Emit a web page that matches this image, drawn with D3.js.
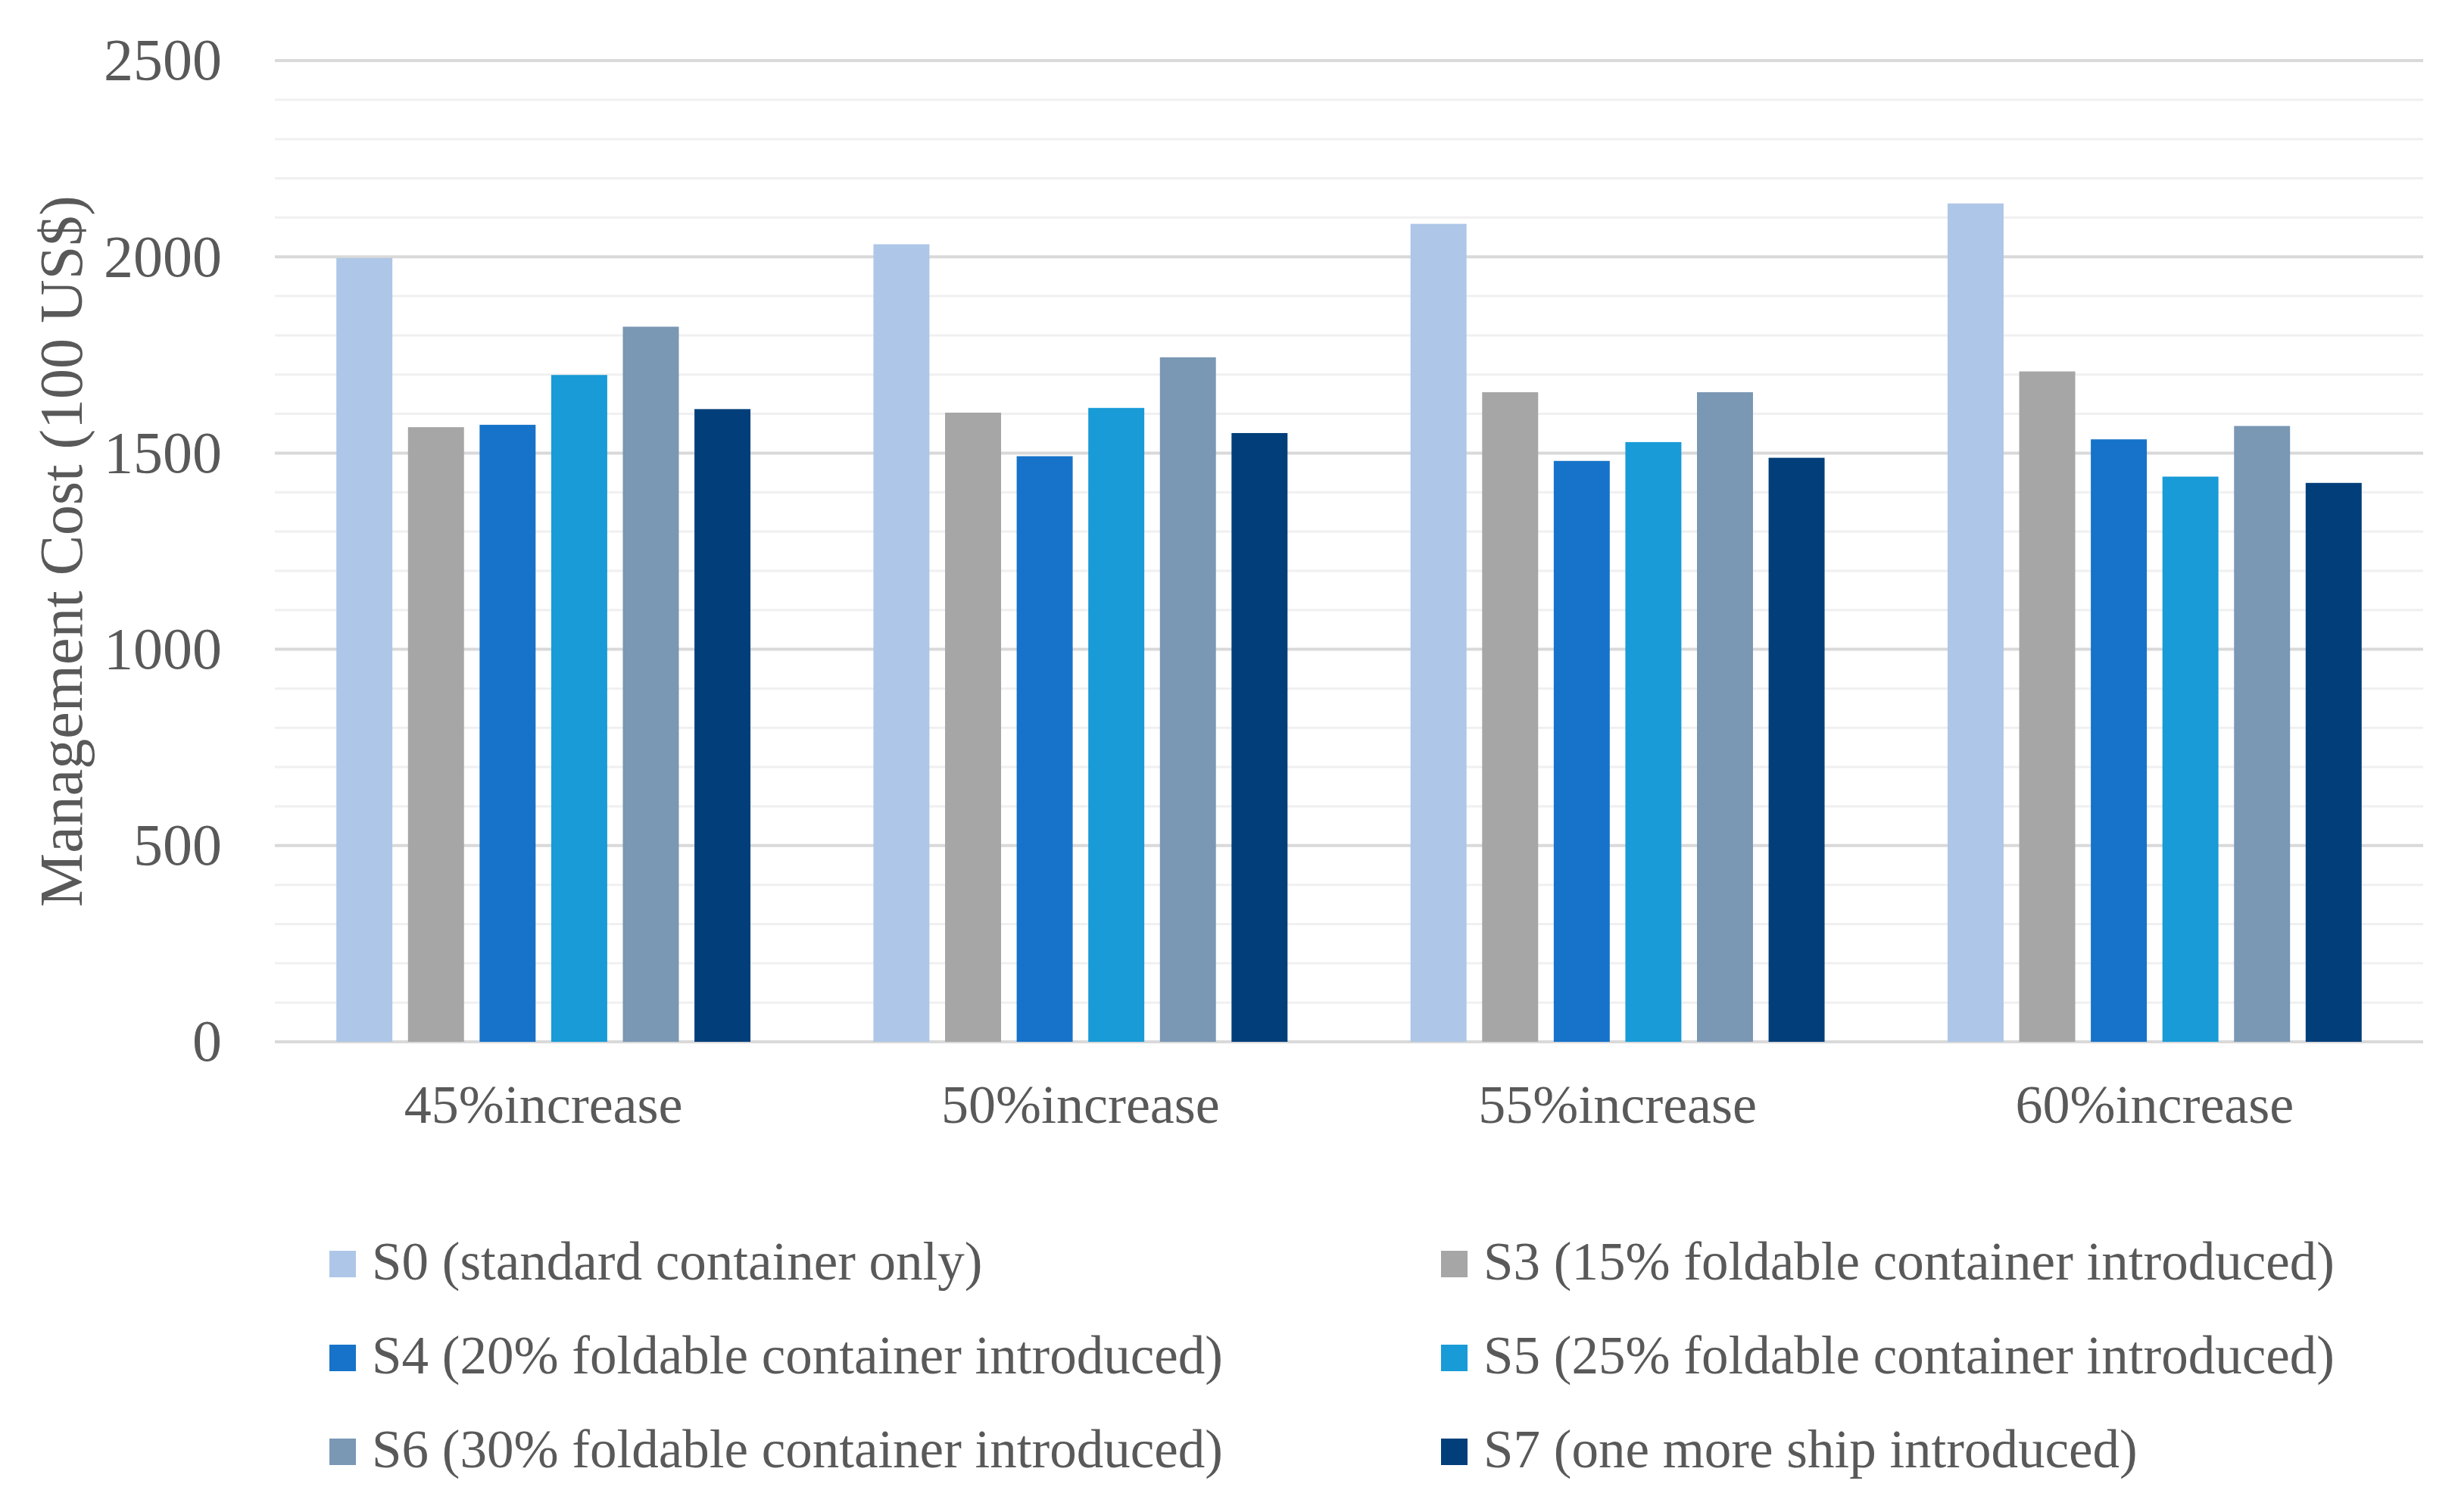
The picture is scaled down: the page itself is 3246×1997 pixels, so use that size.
<!DOCTYPE html>
<html>
<head>
<meta charset="utf-8">
<script src="https://cdn.jsdelivr.net/npm/d3@7"></script>
<style>
body { margin: 0; background: #fff; }
text { font-family: "Liberation Serif", "Times New Roman", serif; fill: #595959; }
</style>
</head>
<body>
<div id="chart"></div>
<script>
// data
var categories = ["45%increase", "50%increase", "55%increase", "60%increase"];
var seriesNames = ["S0", "S3", "S4", "S5", "S6", "S7"];
var seriesLabels = [
	"S0 (standard container only)",
	"S3 (15% foldable container introduced)",
	"S4 (20% foldable container introduced)",
	"S5 (25% foldable container introduced)",
	"S6 (30% foldable container introduced)",
	"S7 (one more ship introduced)"
];
var S0 = [1997, 2032, 2084, 2136];
var S3 = [1566, 1603, 1655, 1708];
var S4 = [1572, 1492, 1480, 1535];
var S5 = [1699, 1615, 1528, 1440];
var S6 = [1822, 1744, 1655, 1569];
var S7 = [1612, 1551, 1488, 1424];
var yTicks = [0, 500, 1000, 1500, 2000, 2500];
var colors = ["#aec6e7", "#a6a6a6", "#1673c9", "#189bd7", "#7a97b4", "#023f7a"];

var values = [S0, S3, S4, S5, S6, S7];
var W = 3246, H = 1997;
var plot = {left: 363, right: 3200, top: 80, bottom: 1376};

var svg = d3.select("#chart").append("svg").attr("width", W).attr("height", H);
svg.append("rect").attr("width", W).attr("height", H).attr("fill", "#fff");

var y = d3.scaleLinear().domain([0, 2500]).range([plot.bottom, plot.top]);
var x0 = d3.scaleBand().domain(categories).range([plot.left, plot.right]).padding(0);
var groupW = x0.bandwidth() * 0.771;
var x1 = d3.scaleBand().domain(seriesNames).range([0, groupW]).paddingInner(0.218).paddingOuter(0);
var color = d3.scaleOrdinal().domain(seriesNames).range(colors);

// minor gridlines every 100
var grid = svg.append("g");
grid.selectAll("line.minor").data(d3.range(100, 2500, 100).filter(function(v) { return v % 500 != 0; }))
	.enter().append("line").attr("class", "minor")
	.attr("x1", plot.left).attr("x2", plot.right)
	.attr("y1", function(d) { return y(d); }).attr("y2", function(d) { return y(d); })
	.style("stroke", "#f0f0f0").style("stroke-width", "3px");
grid.selectAll("line.major").data(yTicks)
	.enter().append("line").attr("class", "major")
	.attr("x1", plot.left).attr("x2", plot.right)
	.attr("y1", function(d) { return y(d); }).attr("y2", function(d) { return y(d); })
	.style("stroke", "#d9d9d9").style("stroke-width", "4px");

// y axis labels
var yAxis = svg.append("g").attr("transform", "translate(" + (plot.left - 70) + ",0)")
	.call(d3.axisLeft(y).tickValues(yTicks).tickFormat(d3.format("d")).tickSize(0).tickPadding(0));
yAxis.select(".domain").remove();
yAxis.selectAll("text").attr("font-size", "78px").style("font-family", "Liberation Serif").style("fill", "#595959");

svg.append("text")
	.attr("transform", "translate(108," + ((plot.top + plot.bottom) / 2) + ") rotate(-90)")
	.attr("text-anchor", "middle").attr("font-size", "80px")
	.text("Management Cost (100 US$)");

// bars
var groups = svg.selectAll("g.cat").data(categories).enter().append("g").attr("class", "cat")
	.attr("transform", function(c) { return "translate(" + (x0(c) + (x0.bandwidth() - groupW) / 2) + ",0)"; });

groups.selectAll("rect").data(function(c, i) {
	return seriesNames.map(function(s, j) { return {s: s, v: values[j][i]}; });
}).enter().append("rect")
	.attr("x", function(d) { return x1(d.s); })
	.attr("width", x1.bandwidth())
	.attr("y", function(d) { return y(d.v); })
	.attr("height", function(d) { return y(0) - y(d.v); })
	.attr("fill", function(d) { return color(d.s); });

// category labels
var xAxis = svg.append("g").attr("transform", "translate(0," + plot.bottom + ")")
	.call(d3.axisBottom(x0).tickSize(0).tickPadding(0));
xAxis.select(".domain").remove();
xAxis.selectAll("text").attr("font-size", "72px").attr("dy", null).attr("y", 107)
	.style("font-family", "Liberation Serif").style("fill", "#595959");

// legend, two columns
var legCols = [435, 1903], legRows = [1652, 1776, 1900], textGap = 56, box = 35;
var legend = svg.selectAll("g.leg").data(seriesNames).enter().append("g").attr("class", "leg")
	.attr("transform", function(s, i) { return "translate(" + legCols[i % 2] + "," + legRows[Math.floor(i / 2)] + ")"; });
legend.append("rect").attr("width", box).attr("height", box).attr("fill", function(s) { return color(s); });
legend.append("text").attr("x", textGap).attr("y", 38).attr("font-size", "71px")
	.text(function(s, i) { return seriesLabels[i]; });
</script>
</body>
</html>
